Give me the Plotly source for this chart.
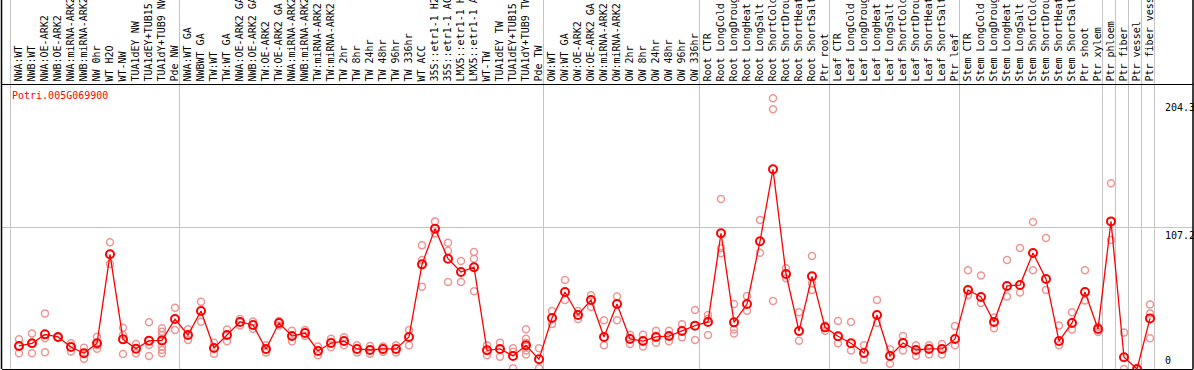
import plotly.graph_objects as go

labels = [
    "NWA:WT", "NWB:WT", "NWA:OE-ARK2", "NWB:OE-ARK2", "NWA:miRNA-ARK2", "NWB:miRNA-ARK2",
    "NW 0hr", "WT H2O", "WT-NW", "TUA1dEY NW", "TUA1dEY+TUB15 NW", "TUA1dY+TUB9 NW", "Pde NW",
    "NWA:WT GA", "NWBWT GA", "TW:WT", "TW:WT GA", "NWA:OE-ARK2 GA", "NWB:OE-ARK2 GA",
    "TW:OE-ARK2", "TW:OE-ARK2 GA", "NWA:miRNA-ARK2 GA", "NWB:miRNA-ARK2 GA", "TW:miRNA-ARK2",
    "TW:miRNA-ARK2 GA", "TW 2hr", "TW 8hr", "TW 24hr", "TW 48hr", "TW 96hr", "TW 336hr",
    "WT ACC", "35S::etr1-1 H2O", "35S::etr1-1 ACC", "LMX5::etr1-1 H2O", "LMX5::etr1-1 ACC",
    "WT-TW", "TUA1dEY TW", "TUA1dEY+TUB15 TW", "TUA1dY+TUB9 TW", "Pde TW",
    "OW:WT", "OW:WT GA", "OW:OE-ARK2", "OW:OE-ARK2 GA", "OW:miRNA-ARK2", "OW:miRNA-ARK2 GA",
    "OW 2hr", "OW 8hr", "OW 24hr", "OW 48hr", "OW 96hr", "OW 336hr",
    "Root CTR", "Root LongCold", "Root LongDrought", "Root LongHeat", "Root LongSalt",
    "Root ShortCold", "Root ShortDrought", "Root ShortHeat", "Root ShortSalt", "Ptr root",
    "Leaf CTR", "Leaf LongCold", "Leaf LongDrought", "Leaf LongHeat", "Leaf LongSalt",
    "Leaf ShortCold", "Leaf ShortDrought", "Leaf ShortHeat", "Leaf ShortSalt", "Ptr leaf",
    "Stem CTR", "Stem LongCold", "Stem LongDrought", "Stem LongHeat", "Stem LongSalt",
    "Stem ShortCold", "Stem ShortDrought", "Stem ShortHeat", "Stem ShortSalt", "Ptr shoot",
    "Ptr xylem", "Ptr phloem", "Ptr fiber", "Ptr vessel", "Ptr fiber vessel",
]

mean_values = [
    17.5, 19.5, 26.3, 24.3, 16.7, 11.9, 19.5, 87.0, 22.5, 15.4, 21.5, 21.7, 37.9,
    25.8, 44.0, 15.9, 25.8, 35.7, 33.4, 15.2, 34.9, 25.0, 27.3, 13.7, 19.7, 21.2, 15.2,
    14.4, 15.2, 15.2, 24.3, 79.4, 106.5, 83.7, 73.6, 77.2, 14.2, 15.2, 9.9, 18.0, 7.4,
    38.7, 58.4, 41.0, 52.4, 24.3, 49.3, 22.8, 21.2, 24.3, 25.0, 28.8, 32.9,
    35.7, 103.0, 35.4, 49.3, 96.9, 151.5, 72.1, 28.8, 70.3, 31.6,
    24.8, 19.5, 12.1, 41.0, 9.9, 19.7, 14.4, 15.2, 15.2, 22.8,
    60.0, 54.6, 35.7, 63.0, 63.7, 88.0, 68.3, 21.2, 34.9, 58.4, 30.3,
    112.0, 8.9, 0.0, 38.4,
]

replicates = [
    [22.5, 11.9, 17.5], [27.0, 11.9, 19.5], [42.2, 12.7, 23.3], [24.3, 24.0], [19.5, 13.2],
    [16.2, 7.8], [24.5, 15.4, 18.0], [96.1, 79.7], [31.3, 11.4, 25.8], [19.0, 11.9],
    [35.4, 9.9, 18.2], [30.9, 28.3, 25.8, 16.9, 14.4, 11.9], [46.5, 29.6],
    [30.1, 22.0], [51.0, 35.9], [20.0, 11.5], [30.0, 21.0], [38.0, 33.0], [36.0, 30.5],
    [18.0, 12.5], [36.5, 33.0], [29.0, 21.0], [29.5, 25.0], [17.0, 10.5], [23.0, 16.5],
    [24.0, 18.0], [18.0, 12.5], [17.5, 11.5], [17.0, 13.0], [18.0, 12.5], [29.6, 18.0],
    [93.8, 82.7, 62.5], [112.0, 103.0], [95.8, 89.8, 66.0], [82.0, 66.0], [88.8, 83.7, 59.0],
    [18.0, 10.4], [20.0, 9.3], [15.7, 0.5, 13.0], [30.1, 23.0, 20.0, 17.0, 14.0, 11.0],
    [15.7, 0.5], [44.0, 34.1],
    [67.5, 52.4], [44.0, 38.0], [56.0, 47.0], [37.0, 18.0], [55.0, 37.0], [26.0, 19.0],
    [26.0, 17.0], [29.0, 20.0], [29.0, 21.0], [34.0, 24.0], [44.8, 22.0],
    [41.0, 25.8, 38.0], [129.0, 91.6, 87.8], [49.3, 30.0, 27.0], [55.4, 44.2], [113.0, 88.2],
    [205.4, 197.0, 51.6], [76.4, 68.8], [43.0, 21.5], [85.7, 65.0, 60.0], [33.0, 29.0],
    [36.4, 19.5], [35.7, 14.0], [18.0, 7.0], [52.4, 35.0], [15.0, 4.0], [25.0, 14.0],
    [18.0, 10.0], [18.0, 11.0], [19.0, 11.0], [32.6, 18.0],
    [75.0, 56.0], [71.0, 50.0], [39.0, 31.0], [82.7, 55.0], [91.8, 58.0], [111.5, 75.0],
    [99.4, 60.0], [33.0, 18.0], [43.0, 30.0], [75.0, 52.0], [32.0, 28.0],
    [140.9, 97.9], [27.6, 0.0], [0.0, 0.0], [49.0, 42.2, 23.3],
]

right_labels = ["204.3", "107.2", "0"]
right_values = [204.3, 107.2, 0.0]
title_text = "Potri.005G069900"
group_ends = [-1, 12, 40, 52, 62, 72, 83, 84, 85, 86, 87]

x_idx = list(range(len(labels)))
rep_x, rep_y = [], []
for i, reps in enumerate(replicates):
    for v in reps:
        rep_x.append(i)
        rep_y.append(v)

W, H = 1194, 370
ML, MR, MT, MB = 2, 1, 85, 1
PX_PER_CAT = 13.0
FIRST_PX = 19.0
plot_w = W - ML - MR
plot_h = H - MT - MB
x0 = -(FIRST_PX - ML) / PX_PER_CAT
x1 = x0 + plot_w / PX_PER_CAT
PX_PER_UNIT = 1.318
y1 = plot_h / PX_PER_UNIT

mono = "DejaVu Sans Mono"

fig = go.Figure()
fig.add_trace(go.Scatter(
    x=rep_x, y=rep_y, mode="markers",
    marker=dict(symbol="circle-open", size=7, color="rgb(238,150,150)", line=dict(width=1.5)),
    hoverinfo="skip", showlegend=False, cliponaxis=False,
))
fig.add_trace(go.Scatter(
    x=x_idx, y=mean_values, mode="lines+markers",
    line=dict(color="#ff0000", width=1.3),
    marker=dict(symbol="circle-open", size=8, color="#ff0000", line=dict(width=2)),
    showlegend=False, cliponaxis=False,
))

top_ext = 1 + MT / plot_h
shapes = []
for g in group_ends:
    xv = g + 4.5 / PX_PER_CAT
    shapes.append(dict(type="line", xref="x", yref="paper", x0=xv, x1=xv, y0=0, y1=top_ext,
                       line=dict(color="#c4c4c4", width=1), layer="below"))
# outer black frame lines
shapes.append(dict(type="line", xref="paper", yref="paper", x0=-0.5 / plot_w, x1=-0.5 / plot_w,
                   y0=0, y1=top_ext, line=dict(color="black", width=1.5)))
shapes.append(dict(type="line", xref="paper", yref="paper", x0=1, x1=1,
                   y0=0, y1=top_ext, line=dict(color="black", width=1.5)))

annotations = [dict(
    text=title_text, xref="paper", yref="paper",
    x=(10 - ML) / plot_w, y=1 - 3 / plot_h, xanchor="left", yanchor="top",
    showarrow=False, font=dict(family=mono, size=10, color="#ff0000"),
)]
for lab, val in zip(right_labels, right_values):
    annotations.append(dict(
        text=lab, xref="paper", yref="y", x=(1163 - ML) / plot_w, y=val,
        xanchor="left", yanchor="bottom" if val == 0 else "top", yshift=1 if val == 0 else 0,
        showarrow=False, font=dict(family=mono, size=10, color="black"),
    ))

fig.update_layout(
    width=W, height=H,
    margin=dict(l=ML, r=MR, t=MT, b=MB, pad=0),
    paper_bgcolor="white", plot_bgcolor="white",
    shapes=shapes, annotations=annotations,
    xaxis=dict(
        range=[x0, x1], side="top", tickmode="array", tickvals=x_idx, ticktext=labels,
        tickangle=-90, ticks="", showgrid=False, zeroline=False,
        showline=True, mirror=True, linecolor="black", linewidth=1.5,
        tickfont=dict(family=mono, size=10, color="black"), automargin=False,
    ),
    yaxis=dict(
        range=[0, y1], tickmode="array", tickvals=[107.2], showticklabels=False,
        showgrid=True, gridcolor="#c4c4c4", gridwidth=1, zeroline=False, showline=False,
        automargin=False,
    ),
)

fig.write_html(
    "out.html",
    config={"displayModeBar": False, "staticPlot": True},
    post_script="document.body.style.margin='0';document.body.style.overflow='hidden';",
)
